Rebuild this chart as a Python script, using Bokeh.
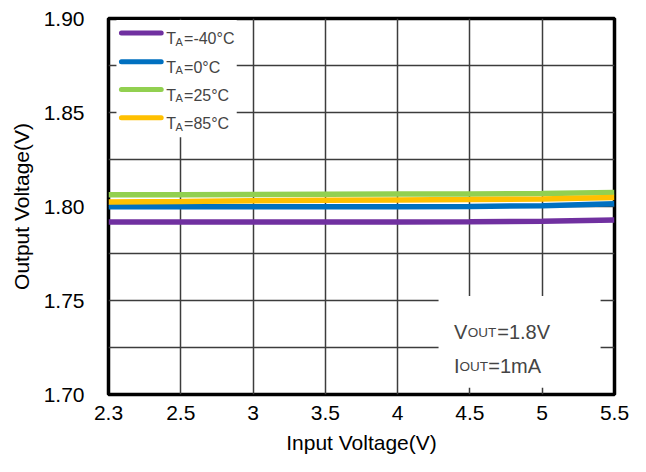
from bokeh.plotting import figure
from bokeh.models import Range1d, FixedTicker, BoxAnnotation, Label, NumeralTickFormatter
from bokeh.embed import file_html
from bokeh.resources import INLINE

# ---------------- data ----------------
x_labels = ["2.3", "2.5", "3", "3.5", "4", "4.5", "5", "5.5"]
vin = [2.3, 2.5, 3.0, 3.5, 4.0, 4.5, 5.0, 5.5]
vout_m40 = [1.7918, 1.7918, 1.7918, 1.7918, 1.7918, 1.7919, 1.7921, 1.7928]
vout_0 = [1.7999, 1.7999, 1.7999, 1.7999, 1.7999, 1.8000, 1.8004, 1.8014]
vout_25 = [1.8062, 1.8063, 1.8064, 1.8065, 1.8066, 1.8067, 1.8069, 1.8074]
vout_85 = [1.8024, 1.8026, 1.8030, 1.8033, 1.8035, 1.8037, 1.8040, 1.8048]
temps = ["-40°C", "0°C", "25°C", "85°C"]
y_ticks = [1.70, 1.75, 1.80, 1.85, 1.90]
y_grid = [1.725, 1.75, 1.775, 1.80, 1.825, 1.85, 1.875]

colors = {"-40°C": "#7030A0", "0°C": "#0070C0", "25°C": "#92D050", "85°C": "#FFC000"}
series = {"-40°C": vout_m40, "0°C": vout_0, "25°C": vout_25, "85°C": vout_85}

idx = list(range(len(vin)))
FONT = "Liberation Sans"

p = figure(width=630, height=456,
           x_range=Range1d(0, len(vin) - 1), y_range=Range1d(1.70, 1.90),
           output_backend="svg", toolbar_location=None,
           min_border_left=108, min_border_right=16, min_border_top=18, min_border_bottom=62,
           background_fill_color="white", border_fill_color="white")

# reference-pixel -> data helpers (layout only; reference frame is 108..617 x 18..404)
def xd(px):
    return (px - 108.0) / (617.0 - 108.0) * (len(vin) - 1)

def yd(py):
    return 1.90 - (py - 18.0) / (404.0 - 18.0) * 0.20

# grid
p.xgrid.ticker = FixedTicker(ticks=idx)
p.ygrid.ticker = FixedTicker(ticks=y_grid)
for g in (p.xgrid[0], p.ygrid[0]):
    g.grid_line_color = "#3c3c3c"
    g.grid_line_width = 1.5

# axes
p.xaxis.ticker = FixedTicker(ticks=idx)
p.xaxis.major_label_overrides = {i: lab for i, lab in enumerate(x_labels)}
p.yaxis.ticker = FixedTicker(ticks=y_ticks)
p.yaxis.formatter = NumeralTickFormatter(format="0.00")
for ax in (p.xaxis[0], p.yaxis[0]):
    ax.axis_line_color = None
    ax.major_tick_line_color = None
    ax.minor_tick_line_color = None
    ax.major_tick_out = 0
    ax.major_tick_in = 0
    ax.minor_tick_out = 0
    ax.major_label_text_font = FONT
    ax.major_label_text_font_size = "21px"
    ax.major_label_text_color = "black"
    ax.axis_label_text_font = FONT
    ax.axis_label_text_font_size = "21px"
    ax.axis_label_text_font_style = "normal"
    ax.axis_label_text_color = "black"
p.xaxis.axis_label = "Input Voltage(V)"
p.yaxis.axis_label = "Output Voltage(V)"
p.xaxis.major_label_standoff = 11
p.xaxis.axis_label_standoff = 8
p.yaxis.major_label_standoff = 24
p.yaxis.axis_label_standoff = 8

p.outline_line_color = "black"
p.outline_line_width = 3.5
p.outline_line_alpha = 1.0

# data lines
for t in ["-40°C", "0°C", "25°C", "85°C"]:
    p.line(idx, series[t], line_color=colors[t], line_width=5.5)

# legend (manual, for the subscript)
p.add_layout(BoxAnnotation(left=xd(116), right=xd(237), top=yd(19.5), bottom=yd(140),
                           fill_color="white", fill_alpha=1.0, line_color=None))
row_px = [33.0, 62.3, 91.0, 120.0]
p.segment(x0=[xd(121)] * 4, x1=[xd(161)] * 4,
          y0=[yd(r) for r in row_px], y1=[yd(r) for r in row_px],
          line_color=[colors[t] for t in temps], line_width=5, line_cap="round",
          level="overlay")
for t, r in zip(temps, row_px):
    p.add_layout(Label(x=xd(166), y=yd(r + 6), text="T", text_font=FONT,
                       text_font_size="16px", text_baseline="alphabetic", text_align="left"))
    p.add_layout(Label(x=xd(175.5), y=yd(r + 9), text="A", text_font=FONT,
                       text_font_size="11px", text_baseline="alphabetic", text_align="left"))
    p.add_layout(Label(x=xd(184), y=yd(r + 6), text="=" + t, text_font=FONT,
                       text_font_size="16px", text_baseline="alphabetic", text_align="left"))

# conditions box
p.add_layout(BoxAnnotation(left=xd(440), right=xd(603), top=yd(303), bottom=yd(397),
                           fill_color="white", fill_alpha=1.0, line_color=None))
for main, sub, rest, base, x_sub, x_rest in [("V", "OUT", "=1.8V", 340.0, 469.5, 499.0),
                                              ("I", "OUT", "=1mA", 375.0, 461.0, 490.0)]:
    p.add_layout(Label(x=xd(455.5), y=yd(base), text=main, text_font=FONT,
                       text_font_size="20px", text_baseline="alphabetic", text_align="left"))
    p.add_layout(Label(x=xd(x_sub), y=yd(base), text=sub, text_font=FONT,
                       text_font_size="13.5px", text_baseline="alphabetic", text_align="left"))
    p.add_layout(Label(x=xd(x_rest), y=yd(base), text=rest, text_font=FONT,
                       text_font_size="20px", text_baseline="alphabetic", text_align="left"))

open("out.html", "w").write(file_html(p, INLINE))
